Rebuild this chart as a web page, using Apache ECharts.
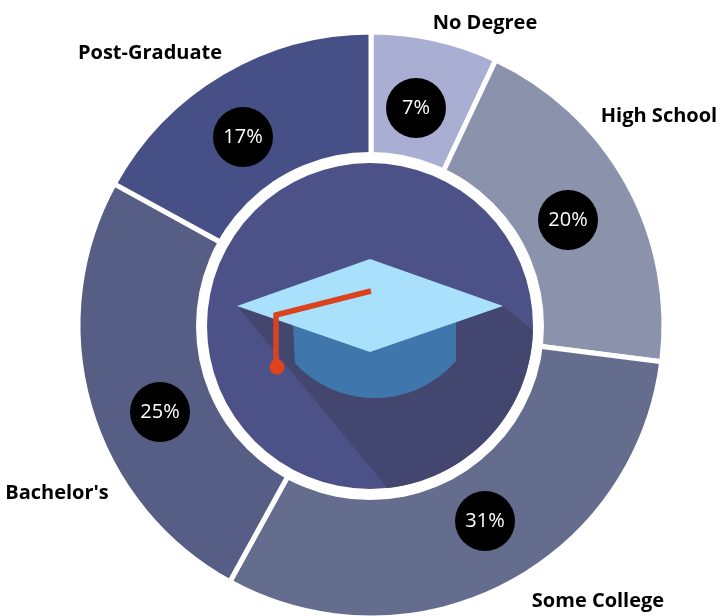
<!DOCTYPE html>
<html>
<head>
<meta charset="utf-8">
<style>html,body{margin:0;padding:0;background:#fff}#c{width:721px;height:616px}</style>
<script src="https://cdn.jsdelivr.net/npm/echarts@6/dist/echarts.min.js"></script>
</head>
<body>
<div id="c"></div>
<script>
const categories = ['No Degree', 'High School', 'Some College', "Bachelor's", 'Post-Graduate'];
const shares = [7, 20, 31, 25, 17];
const sliceColors = ['#a9aed3', '#8a92ac', '#656d8e', '#575e85', '#474f87'];
const badgeSpots = [[416,108],[568,220],[485,521],[160,412],[243,137]];
const nameSpots = [[485,23],[659,116],[598,601],[57,493],[150,53]];

const CX = 370, CY = 326, R = 163;
const font = '"Open Sans", sans-serif';

function arc(cx, cy, r, a0, a1) {
  const pts = [];
  for (let i = 0; i <= 48; i++) {
    const a = (a0 + (a1 - a0) * i / 48) * Math.PI / 180;
    pts.push([cx + r * Math.cos(a), cy + r * Math.sin(a)]);
  }
  return pts;
}
const chart = echarts.init(document.getElementById('c'), null, {renderer: 'canvas'});
const pieBase = {
  type: 'pie', center: [371, 325], radius: [168, 293], startAngle: 90, clockwise: true,
  silent: true, animation: false, labelLine: {show: false}
};
const rows = categories.map((name, i) => ({name, value: shares[i], itemStyle: {color: sliceColors[i]}}));

chart.setOption({
  animation: false,
  backgroundColor: '#fff',
  series: [
    Object.assign({}, pieBase, {
      z: 2,
      data: rows,
      itemStyle: {borderColor: '#fff', borderWidth: 5},
      label: {
        show: true, position: 'inside', formatter: '{c}%', color: '#fff',
        fontFamily: font, fontWeight: 400, fontSize: 20, backgroundColor: '#000',
        width: 60, height: 60, lineHeight: 61, borderRadius: 30, align: 'center', verticalAlign: 'middle'
      },
      labelLayout: p => ({x: badgeSpots[p.dataIndex][0], y: badgeSpots[p.dataIndex][1], align: 'center', verticalAlign: 'middle'})
    }),
    Object.assign({}, pieBase, {
      z: 3,
      data: rows.map(r => ({name: r.name, value: r.value})),
      itemStyle: {color: 'rgba(0,0,0,0)'},
      label: {show: true, position: 'outside', overflow: 'none', formatter: '{b}', color: '#000', fontFamily: font, fontWeight: 'bold', fontSize: 20},
      labelLayout: p => ({x: nameSpots[p.dataIndex][0], y: nameSpots[p.dataIndex][1], align: 'center', verticalAlign: 'middle', hideOverlap: false})
    })
  ],
  graphic: {elements: [
    {type: 'circle', z: 10, shape: {cx: CX, cy: CY, r: 174}, style: {fill: '#fff'}, silent: true},
    {type: 'circle', z: 11, shape: {cx: CX, cy: CY, r: R}, style: {fill: '#4c5287'}, silent: true},
    {type: 'polygon', z: 12, silent: true, style: {fill: '#43476f'},
      shape: {points: [[503,306],[238,307]].concat(arc(CX, CY, R, 83.9, 1.4))}},
    {type: 'polygon', z: 13, silent: true, style: {fill: '#3f76ab'},
      shape: {points: [[293,320],[456,320],[456,362]].concat(arc(374.5, 290, 108, 41.5, 137.5))}},
    {type: 'polygon', z: 14, silent: true, style: {fill: '#a9e0fb'},
      shape: {points: [[370,259],[503,306],[370,352],[237,306]]}},
    {type: 'polyline', z: 15, silent: true, style: {stroke: '#d9441f', lineWidth: 5.5, fill: 'none', lineJoin: 'miter'},
      shape: {points: [[371,291],[276,315],[276,366]]}},
    {type: 'circle', z: 16, silent: true, shape: {cx: 277, cy: 367, r: 7.5}, style: {fill: '#e0431c'}}
  ]}
});
</script>
</body>
</html>
